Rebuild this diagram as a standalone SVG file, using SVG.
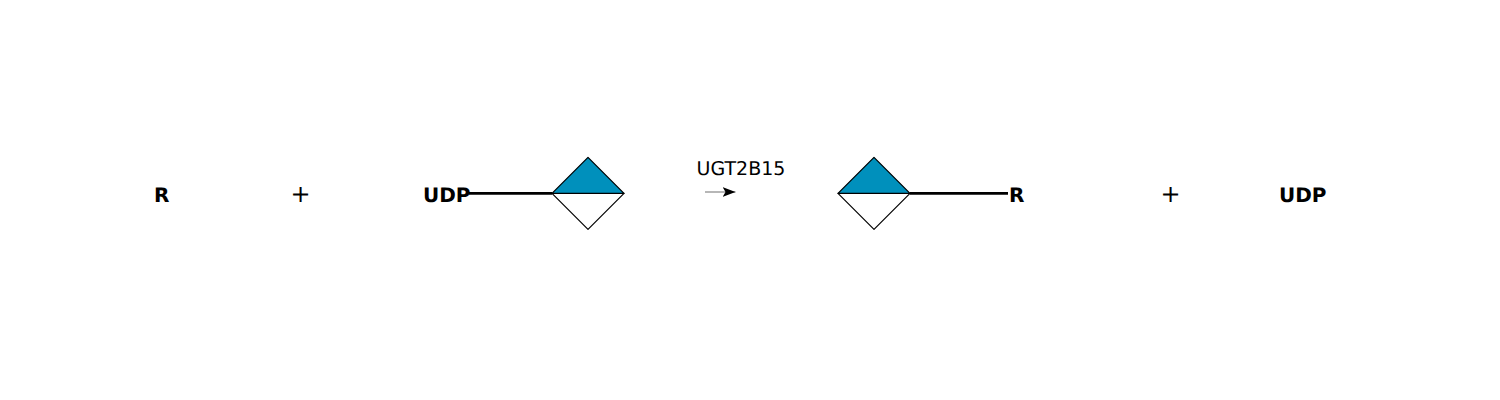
<svg xmlns="http://www.w3.org/2000/svg" width="1500" height="400" viewBox="0 0 1500 400">
<style>
text{font-family:"DejaVu Sans",sans-serif;fill:#000;text-rendering:geometricPrecision}
.b{font-weight:bold;font-size:20px}
.p{font-size:24px;text-anchor:middle}
.l{font-size:19px}
.bond{stroke:#000;stroke-width:2.7;fill:none}
.blue{fill:#0090bc;stroke:#000;stroke-width:1.2;stroke-linejoin:round}
.white{fill:#fff;stroke:#000;stroke-width:1.2;stroke-linejoin:round}
</style>
<defs><marker id="ah" markerUnits="userSpaceOnUse" markerWidth="14" markerHeight="12" refX="13" refY="5" orient="auto"><path d="M0,0L13,5L0,10L3,5Z" fill="#000"/></marker></defs>
<rect width="1500" height="400" fill="#fff"/>
<g id="connectors">
<line class="bond" x1="469" y1="193.300" x2="552" y2="193.300"/>
<line class="bond" x1="910" y1="193.300" x2="1008" y2="193.300"/>
<line x1="705" y1="192" x2="735.500" y2="192" stroke="#888" stroke-width="1.2" marker-end="url(#ah)"/>
</g>
<g id="r-left"><text class="b" x="154" y="201.500">R</text></g>
<g id="plus-left"><text class="p" x="300.500" y="201.700">+</text></g>
<g id="udp-glycan"><text class="b" x="423" y="201.500">UDP</text>
<path class="white" d="M552,193.300H624L588,229.300Z"/><path class="blue" d="M552,193.300L588,157.300L624,193.300Z"/></g>
<g id="enzyme"><text class="l" x="696.500" y="175">UGT2B15</text></g>
<g id="r-glycan"><path class="white" d="M838,193.300H910L874,229.300Z"/><path class="blue" d="M838,193.300L874,157.300L910,193.300Z"/>
<text class="b" x="1009" y="201.500">R</text></g>
<g id="plus-right"><text class="p" x="1170.500" y="201.700">+</text></g>
<g id="udp-right"><text class="b" x="1279" y="201.500">UDP</text></g>
</svg>
